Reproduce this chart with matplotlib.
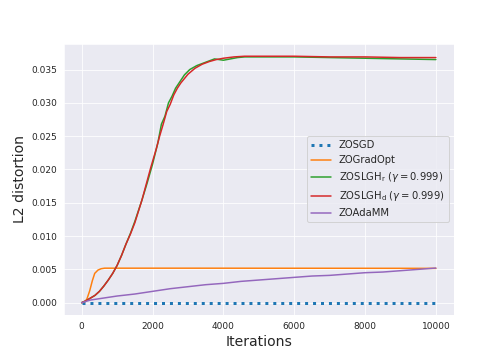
import numpy as np
import matplotlib
matplotlib.use('Agg')
import matplotlib.pyplot as plt
import seaborn as sns

sns.set_style('darkgrid')

# ZOSGD stays at zero
sgd_x = [0, 10000]
sgd_y = [0.0, 0.0]

# ZOGradOpt
opt_x = [0, 100, 150, 226, 300, 367, 460, 550, 650, 1000, 3000, 6000, 9000, 10000]
opt_y = [0.0, 0.0002, 0.0006, 0.0018, 0.0033, 0.0044, 0.0049, 0.0051, 0.00518,
         0.00518, 0.00518, 0.00517, 0.00516, 0.00515]

# ZOSLGH_r (gamma = 0.999)
r_x = [0, 125, 250, 375, 500, 625, 750, 875, 1000, 1125, 1250, 1375, 1500,
       1700, 1850, 2000, 2150, 2250, 2350, 2450, 2550, 2650, 2750, 2900, 3050,
       3250, 3500, 3750, 4000, 4200, 4400, 4600, 5000, 6000, 7000, 8000, 9000,
       10000]
r_y = [0.0, 0.0003, 0.0007, 0.0011, 0.0017, 0.0025, 0.0034, 0.0044, 0.0056,
       0.0071, 0.0088, 0.0104, 0.0122, 0.0154, 0.0180, 0.0208, 0.0240, 0.0268,
       0.0280, 0.0300, 0.0310, 0.0322, 0.0330, 0.0342, 0.0350, 0.0356, 0.0361,
       0.0366, 0.0364, 0.0366, 0.0368, 0.0369, 0.0369, 0.0369, 0.0368, 0.0367,
       0.0366, 0.0365]

# ZOSLGH_d (gamma = 0.999)
d_x = [0, 125, 250, 375, 500, 625, 750, 875, 1000, 1125, 1250, 1375, 1500,
       1700, 1950, 2100, 2200, 2300, 2400, 2500, 2600, 2700, 2800, 3000, 3200,
       3400, 3600, 3800, 4000, 4300, 4600, 5000, 6000, 7000, 8000, 9000, 10000]
d_y = [0.0, 0.0003, 0.0007, 0.0011, 0.0017, 0.0025, 0.0034, 0.0044, 0.0056,
       0.0071, 0.0088, 0.0103, 0.0120, 0.0154, 0.0203, 0.0230, 0.0250, 0.0268,
       0.0287, 0.0298, 0.0312, 0.0322, 0.0330, 0.0343, 0.0352, 0.0358, 0.0362,
       0.0365, 0.0367, 0.0369, 0.0370, 0.0370, 0.0370, 0.0369, 0.0369, 0.0368,
       0.0368]

# ZOAdaMM
ada_x = [0, 250, 500, 1000, 1500, 2000, 2500, 3000, 3500, 4000, 4500, 5000,
         5500, 6000, 6500, 7000, 7500, 8000, 8500, 9000, 9500, 10000]
ada_y = [0.0, 0.0004, 0.0006, 0.0010, 0.0013, 0.0017, 0.0021, 0.0024, 0.0027,
         0.0029, 0.0032, 0.0034, 0.0036, 0.0038, 0.0040, 0.0041, 0.0043, 0.0045,
         0.0046, 0.0048, 0.0050, 0.0052]

fig = plt.figure(figsize=(7, 5), dpi=72)
fig.subplots_adjust(left=0.127, right=0.9, bottom=0.125, top=0.878)
ax = fig.add_subplot(111)
ax.plot(sgd_x, sgd_y, ':', lw=3, color='tab:blue', label='ZOSGD')
ax.plot(opt_x, opt_y, color='tab:orange', label='ZOGradOpt')
ax.plot(r_x, r_y, color='tab:green', label=r'ZOSLGH$_\mathrm{r}$ ($\gamma=0.999$)')
ax.plot(d_x, d_y, color='tab:red', label=r'ZOSLGH$_\mathrm{d}$ ($\gamma=0.999$)')
ax.plot(ada_x, ada_y, color='tab:purple', label='ZOAdaMM')

ax.tick_params(labelsize=9)
ax.set_xlabel('Iterations', fontsize=14)
ax.set_ylabel('L2 distortion', fontsize=14)
ax.legend(loc='center right', fontsize=10)

fig.savefig('out.png', dpi=72)
